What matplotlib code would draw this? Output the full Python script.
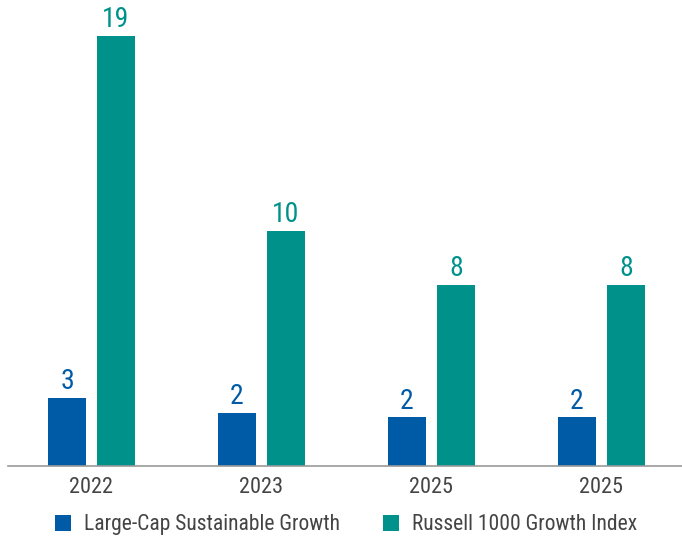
import matplotlib
matplotlib.use("Agg")
import matplotlib.pyplot as plt
from matplotlib import font_manager
import numpy as np

categories = ["2022", "2023", "2025", "2025"]
series_names = ["Large-Cap Sustainable Growth", "Russell 1000 Growth Index"]
fund_values = [3.0, 2.33, 2.15, 2.15]
index_values = [19.0, 10.4, 8.0, 8.0]
fund_labels = ["3", "2", "2", "2"]
index_labels = ["19", "10", "8", "8"]

blue = "#005BA6"
teal = "#00928A"
text_gray = "#444444"

avail = {f.name for f in font_manager.fontManager.ttflist}
fams = [f for f in ["Liberation Sans Narrow", "Roboto Condensed", "Open Sans Condensed"] if f in avail] + ["DejaVu Sans"]
plt.rcParams['font.family'] = fams

fig = plt.figure(figsize=(6.82, 5.40), dpi=100)
ax = fig.add_axes([8/682, 74/540, 674/682, 466/540])

x = np.arange(len(categories))
w = 38/170
off = 0.144
b1 = ax.bar(x - off, fund_values, width=w, color=blue, label=series_names[0])
b2 = ax.bar(x + off, index_values, width=w, color=teal, label=series_names[1])

for rect, lab in zip(b1, fund_labels):
    ax.annotate(lab, (rect.get_x() + rect.get_width()/2, rect.get_height()),
                xytext=(0, 2), textcoords="offset points", ha="center", va="bottom",
                fontsize=20, color=blue)
for rect, lab in zip(b2, index_labels):
    ax.annotate(lab, (rect.get_x() + rect.get_width()/2, rect.get_height()),
                xytext=(0, 2), textcoords="offset points", ha="center", va="bottom",
                fontsize=20, color=teal)

ax.set_xlim((8 - 91.5)/170, (682 - 91.5)/170)
ax.set_ylim(0, 466/(430/19))
ax.set_xticks(x)
ax.set_xticklabels(categories, fontsize=16, color=text_gray)
ax.tick_params(axis='x', length=0, pad=8)
ax.set_yticks([])
for s in ["top", "right", "left"]:
    ax.spines[s].set_visible(False)
ax.spines["bottom"].set_color("#999999")
ax.spines["bottom"].set_linewidth(1.2)

fig.legend(handles=[b1, b2], loc="center", bbox_to_anchor=(0.507, 0.028), ncol=2,
           frameon=False, fontsize=15.5, labelcolor=text_gray,
           handlelength=0.75, handleheight=0.75, handletextpad=0.6, columnspacing=2.0)

fig.savefig("out.png", dpi=100)
